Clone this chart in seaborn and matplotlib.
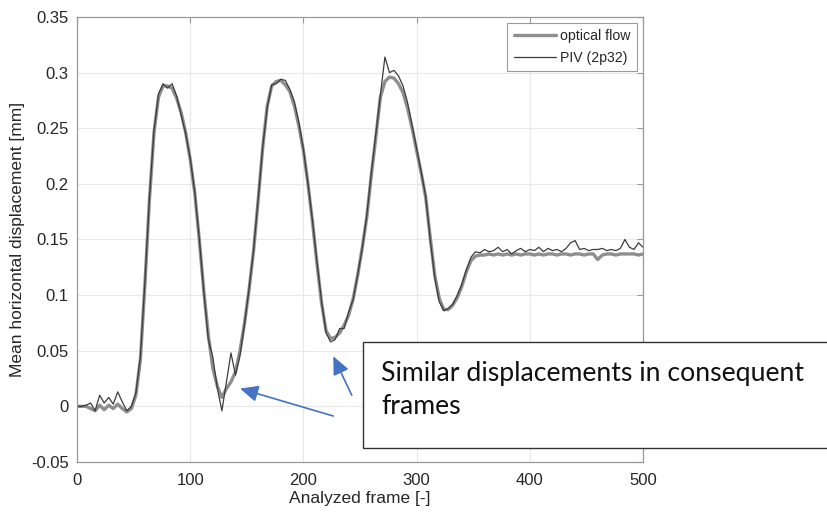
import numpy as np
import pandas as pd
import matplotlib
matplotlib.use("Agg")
import matplotlib.pyplot as plt
import seaborn as sns
from matplotlib.patches import Rectangle
from matplotlib.ticker import FuncFormatter

# Analyzed frames (every 4th frame)
frames = np.arange(0, 501, 4)

# Mean horizontal displacement [mm] from optical flow
optical_flow = [
    0.000, 0.000, 0.000, -0.002, -0.004, 0.001, -0.003, 0.001, -0.002, 0.002,
    -0.002, -0.005, -0.002, 0.010, 0.042, 0.110, 0.186, 0.246, 0.278, 0.288,
    0.288, 0.286, 0.277, 0.264, 0.246, 0.222, 0.192, 0.150, 0.104, 0.064,
    0.034, 0.018, 0.008, 0.016, 0.022, 0.031, 0.050, 0.075, 0.105, 0.140,
    0.185, 0.232, 0.270, 0.288, 0.292, 0.293, 0.289, 0.283, 0.270, 0.252,
    0.230, 0.200, 0.166, 0.128, 0.093, 0.068, 0.061, 0.062, 0.066, 0.073,
    0.082, 0.097, 0.118, 0.143, 0.170, 0.208, 0.242, 0.278, 0.292, 0.296,
    0.295, 0.290, 0.282, 0.268, 0.250, 0.230, 0.210, 0.188, 0.152, 0.118,
    0.097, 0.087, 0.087, 0.091, 0.098, 0.108, 0.121, 0.131, 0.135, 0.136,
    0.136, 0.137, 0.136, 0.137, 0.136, 0.137, 0.136, 0.137, 0.136, 0.137,
    0.137, 0.136, 0.137, 0.136, 0.137, 0.137, 0.136, 0.137, 0.137, 0.136,
    0.137, 0.137, 0.136, 0.137, 0.137, 0.132, 0.136, 0.137, 0.137, 0.136,
    0.137, 0.137, 0.137, 0.137, 0.136, 0.137,
]

# Mean horizontal displacement [mm] from PIV (2p32)
piv_2p32 = [
    0.000, 0.000, 0.001, 0.003, -0.004, 0.010, 0.003, 0.008, 0.002, 0.013,
    0.004, -0.004, 0.000, 0.012, 0.045, 0.112, 0.188, 0.248, 0.281, 0.290,
    0.286, 0.290, 0.279, 0.262, 0.245, 0.223, 0.193, 0.151, 0.103, 0.060,
    0.044, 0.016, -0.004, 0.022, 0.048, 0.028, 0.046, 0.074, 0.106, 0.141,
    0.186, 0.233, 0.268, 0.289, 0.290, 0.294, 0.293, 0.285, 0.274, 0.255,
    0.231, 0.201, 0.167, 0.130, 0.095, 0.066, 0.058, 0.060, 0.070, 0.070,
    0.085, 0.096, 0.119, 0.142, 0.172, 0.210, 0.245, 0.280, 0.314, 0.300,
    0.302, 0.297, 0.288, 0.273, 0.253, 0.232, 0.211, 0.189, 0.150, 0.116,
    0.094, 0.086, 0.088, 0.092, 0.100, 0.110, 0.123, 0.134, 0.139, 0.138,
    0.141, 0.139, 0.140, 0.143, 0.139, 0.141, 0.137, 0.140, 0.142, 0.139,
    0.141, 0.140, 0.143, 0.139, 0.142, 0.140, 0.141, 0.139, 0.142, 0.147,
    0.149, 0.141, 0.142, 0.140, 0.141, 0.141, 0.142, 0.140, 0.141, 0.140,
    0.142, 0.150, 0.143, 0.141, 0.147, 0.143,
]

series_names = ["optical flow", "PIV (2p32)"]
x_ticks = [0, 100, 200, 300, 400, 500]
y_ticks = [-0.05, 0, 0.05, 0.1, 0.15, 0.2, 0.25, 0.3, 0.35]

note_text = "Similar displacements in consequent\nframes"

sns.set_theme(style="white")
plt.rcParams["font.family"] = ["Liberation Sans", "DejaVu Sans"]

df = pd.DataFrame({
    "frame": np.concatenate([frames, frames]),
    "disp": optical_flow + piv_2p32,
    "series": [series_names[0]] * len(frames) + [series_names[1]] * len(frames),
})

fig = plt.figure(figsize=(8.28, 5.16), dpi=100)
ax = fig.add_axes([0.0930, 0.1047, 0.6836, 0.8624])

sns.lineplot(data=df[df.series == series_names[0]], x="frame", y="disp",
             color="#8e8e8e", linewidth=2.4, label=series_names[0], ax=ax)
sns.lineplot(data=df[df.series == series_names[1]], x="frame", y="disp",
             color="#3c3c3c", linewidth=0.9, label=series_names[1], ax=ax)

ax.set_xlim(0, 500)
ax.set_ylim(-0.05, 0.35)
ax.set_xticks(x_ticks)
ax.set_yticks(y_ticks)
ax.yaxis.set_major_formatter(FuncFormatter(lambda v, _: "%g" % round(v, 3)))
ax.grid(True, color="#e8e8e8", linewidth=0.8)
ax.set_axisbelow(True)

edge = "#9a9a9a"
for s in ax.spines.values():
    s.set_visible(True)
    s.set_color(edge)
    s.set_linewidth(0.9)
ax.tick_params(direction="in", length=4, width=0.8, color=edge,
               top=True, right=True, labelsize=12, labelcolor="#262626")
ax.tick_params(axis="x", pad=8)
ax.tick_params(axis="y", pad=6)

ax.set_xlabel("Analyzed frame [-]", fontsize=12.5, color="#262626", labelpad=2)
ax.set_ylabel("Mean horizontal displacement [mm]", fontsize=12.5,
              color="#262626", labelpad=4)

leg = ax.legend(loc="upper right", fontsize=10.2, frameon=True, fancybox=False,
                framealpha=1, edgecolor="#9a9a9a", handlelength=3.0,
                handletextpad=0.3, borderaxespad=0.4, borderpad=0.45,
                labelspacing=0.55)
leg.get_frame().set_linewidth(0.8)

# Arrows pointing to the troughs
arrow_kw = dict(arrowstyle="-|>,head_length=0.55,head_width=0.25",
                color="#4472C4", lw=1.2, mutation_scale=20, shrinkA=0, shrinkB=0)
ax.annotate("", xy=(144.0, 0.016), xytext=(226.4, -0.0087),
            arrowprops=arrow_kw, annotation_clip=False)
ax.annotate("", xy=(226.4, 0.045), xytext=(242.7, 0.010),
            arrowprops=arrow_kw, annotation_clip=False)

# Callout box
fig.patches.append(Rectangle((363 / 828, 1 - 448 / 516), 0.6, (448 - 342) / 516,
                             transform=fig.transFigure, facecolor="white",
                             edgecolor="#333333", linewidth=1.0, zorder=5))
fig.text(381 / 828, 1 - 390.5 / 516, note_text, fontsize=19.2,
         family=["Lato", "DejaVu Sans"], color="#111111", va="center",
         ha="left", linespacing=1.4, zorder=6)

fig.savefig("out.png", dpi=100)
